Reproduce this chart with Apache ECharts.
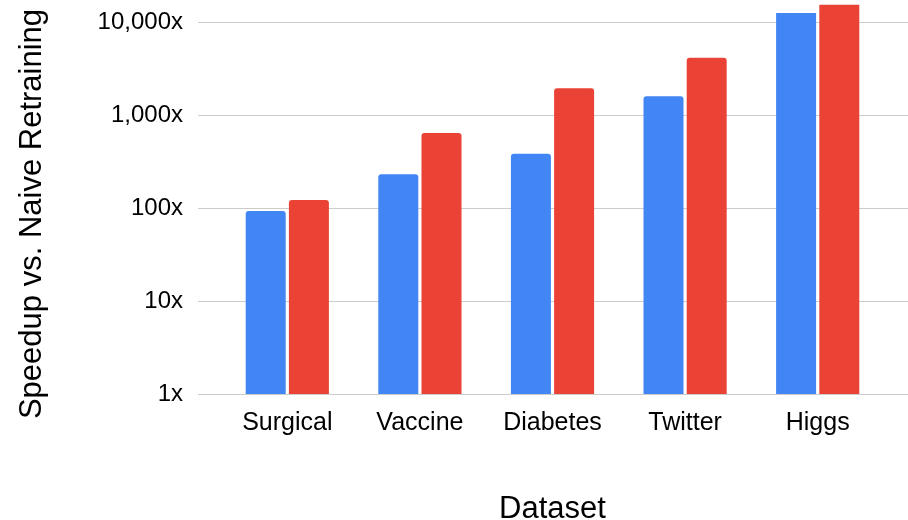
<!DOCTYPE html>
<html>
<head>
<meta charset="utf-8">
<script src="https://cdn.jsdelivr.net/npm/echarts@6/dist/echarts.min.js"></script>
<style>
  html, body { margin: 0; padding: 0; background: #fff; }
  #chart { width: 908px; height: 520px; }
</style>
</head>
<body>
<div id="chart"></div>
<script>
const datasets = ['Surgical', 'Vaccine', 'Diabetes', 'Twitter', 'Higgs'];
const blueValues = [93, 230, 384, 1590, 12500];
const redValues = [122, 640, 1940, 4130, 15300];
const yTicks = [1, 10, 100, 1000, 10000];

const font = 'Arial, "Liberation Sans", sans-serif';
const yMax = yTicks[yTicks.length - 1];

// bars that run past the top tick are drawn square, like the cropped original
function barData(values) {
  return values.map(v => v > yMax ? { value: v, itemStyle: { borderRadius: 0 } } : v);
}

let chart = echarts.init(document.getElementById('chart'), null, { renderer: 'canvas' });

chart.setOption({
  animation: false,
  grid: [
    { left: 221, right: 24, top: 22, bottom: 126, outerBoundsMode: 'none' },   // bars
    { left: 198, right: 0, top: 22, bottom: 126, outerBoundsMode: 'none' }     // gridlines + labels
  ],
  xAxis: [
    {
      type: 'category',
      gridIndex: 0,
      data: datasets,
      axisLine: { show: false },
      axisTick: { show: false },
      axisLabel: { color: '#000', fontSize: 25, fontFamily: font, margin: 17 },
      name: 'Dataset',
      nameLocation: 'middle',
      nameGap: 100,
      nameTextStyle: { color: '#000', fontSize: 31, fontFamily: font }
    },
    { type: 'value', gridIndex: 1, show: false }
  ],
  yAxis: [
    {
      type: 'log',
      gridIndex: 0,
      min: 1,
      max: yMax,
      axisLine: { show: false },
      axisTick: { show: false },
      axisLabel: { show: false },
      splitLine: { show: false }
    },
    {
      type: 'log',
      gridIndex: 1,
      min: 1,
      max: yMax,
      axisLine: { show: false },
      axisTick: { show: false },
      axisLabel: {
        color: '#000',
        fontSize: 24,
        fontFamily: font,
        margin: 15,
        formatter: v => Math.round(v).toLocaleString('en-US') + 'x'
      },
      splitLine: { show: true, lineStyle: { color: '#cccccc', width: 1 } },
      name: 'Speedup vs. Naive Retraining',
      nameLocation: 'middle',
      nameGap: 150,
      nameTextStyle: { color: '#000', fontSize: 31, fontFamily: font, padding: [0, 12, 0, 0] }
    }
  ],
  series: [
    {
      type: 'bar',
      xAxisIndex: 0,
      yAxisIndex: 0,
      data: barData(blueValues),
      barWidth: 40,
      barGap: '8%',
      clip: false,
      itemStyle: { color: '#4285F4', borderRadius: [3, 3, 0, 0] }
    },
    {
      type: 'bar',
      xAxisIndex: 0,
      yAxisIndex: 0,
      data: barData(redValues),
      barWidth: 40,
      barGap: '8%',
      clip: false,
      itemStyle: { color: '#EA4335', borderRadius: [3, 3, 0, 0] }
    }
  ]
});
</script>
</body>
</html>
